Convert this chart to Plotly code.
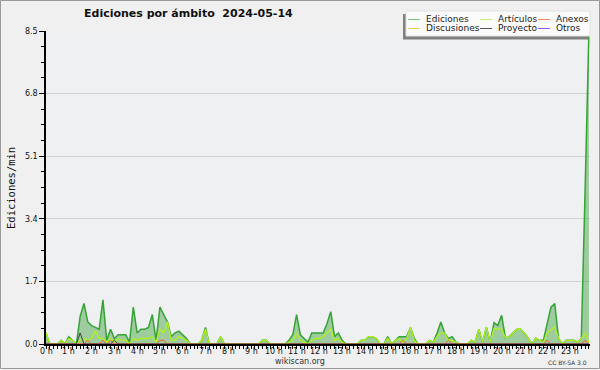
import plotly.graph_objects as go

# ---- data: edits per minute, 10-minute bins (00:00 .. 23:50) ----
ediciones = [
    0.3, 0, 0, 0, 0.1, 0,            # 0 h
    0.2, 0.1, 0, 0.75, 1.1, 0.6,     # 1 h
    0.5, 0.45, 0.4, 1.2, 0.1, 0.4,   # 2 h
    0.15, 0.25, 0.25, 0.25, 0.05, 1.0,  # 3 h
    0.3, 0.4, 0.4, 0.45, 0.8, 0.1,   # 4 h
    1.0, 0.8, 0.6, 0.2, 0.3, 0.35,   # 5 h
    0.25, 0.15, 0, 0, 0, 0.1,        # 6 h
    0.45, 0, 0, 0, 0.2, 0,           # 7 h
    0, 0, 0, 0, 0, 0,                # 8 h
    0, 0, 0, 0.1, 0.1, 0,            # 9 h
    0, 0, 0, 0, 0.1, 0.25,           # 10 h
    0.8, 0.25, 0.15, 0.05, 0.3, 0.3, # 11 h
    0.3, 0.3, 0.55, 0.88, 0.2, 0.3,  # 12 h
    0.1, 0, 0, 0, 0, 0.1,            # 13 h
    0.1, 0.2, 0.2, 0.15, 0, 0,       # 14 h
    0.2, 0, 0.1, 0.2, 0.2, 0.2,      # 15 h
    0.45, 0.15, 0, 0, 0, 0.1,        # 16 h
    0.05, 0.3, 0.6, 0.3, 0.15, 0.2,  # 17 h
    0.05, 0, 0, 0, 0.1, 0.05,        # 18 h
    0.4, 0.05, 0.46, 0.05, 0.58, 0.5,  # 19 h
    0.78, 0.17, 0.2, 0.3, 0.4, 0.4,  # 20 h
    0.3, 0.16, 0, 0.16, 0.1, 0.1,    # 21 h
    0.6, 1.0, 1.1, 0.15, 0, 0.1,     # 22 h
    0.1, 0.1, 0.05, 0.15, 4.2, 8.5,  # 23 h
]
articulos = [
    0.3, 0, 0, 0, 0.1, 0,
    0.15, 0.1, 0, 0.1, 0.15, 0.1,
    0.15, 0.35, 0.15, 0.15, 0.05, 0.15,
    0.05, 0.15, 0.1, 0.1, 0, 0.15,
    0.1, 0.15, 0.15, 0.15, 0.2, 0.05,
    0.4, 0.3, 0.6, 0.1, 0.1, 0.2,
    0.15, 0.1, 0, 0, 0, 0.1,
    0.4, 0, 0, 0, 0.2, 0,
    0, 0, 0, 0, 0, 0,
    0, 0, 0, 0.1, 0.1, 0,
    0, 0, 0, 0, 0.05, 0.1,
    0.3, 0.1, 0.05, 0, 0.1, 0.15,
    0.15, 0.2, 0.3, 0.4, 0.1, 0.15,
    0.05, 0, 0, 0, 0, 0.1,
    0.1, 0.2, 0.2, 0.15, 0, 0,
    0.15, 0, 0.1, 0.15, 0.05, 0.15,
    0.45, 0.1, 0, 0, 0, 0.1,
    0.05, 0.2, 0.3, 0.3, 0.1, 0.1,
    0.05, 0, 0, 0, 0.1, 0.05,
    0.4, 0.05, 0.46, 0.05, 0.42, 0.4,
    0.4, 0.17, 0.2, 0.3, 0.4, 0.4,
    0.3, 0.16, 0, 0.16, 0.1, 0.05,
    0.3, 0.37, 0.46, 0.15, 0, 0.1,
    0.1, 0.1, 0.05, 0.15, 0.3, 0.05,
]
# sparse series: (bin index, value)
anexos_bins = [11, 15, 17, 30, 31, 94, 106, 132, 142]
anexos_vals = [0.1, 0.1, 0.1, 0.1, 0.1, 0.1, 0.1, 0.1, 0.1]
proyecto_bins = [9, 18]
proyecto_vals = [0.3, 0.1]
discusiones_bins = []
discusiones_vals = []
otros_bins = []
otros_vals = []

hour_labels = [f"{h} h" for h in range(24)]
y_ticks = [0, 1.7, 3.4, 5.1, 6.8, 8.5]
y_labels = ["0.0", "1.7", "3.4", "5.1", "6.8", "8.5"]

N = len(ediciones)
x = [i / 6 for i in range(N)]


def dense(bins, vals):
    out = [0.0] * N
    for b, v in zip(bins, vals):
        out[b] = v
    return out


anexos = dense(anexos_bins, anexos_vals)
proyecto = dense(proyecto_bins, proyecto_vals)
discusiones = dense(discusiones_bins, discusiones_vals)
otros = dense(otros_bins, otros_vals)

W, H = 600, 370
ML, MR, MT, MB = 46, 10, 31, 26
PW, PH = W - ML - MR, H - MT - MB
PX_PER_HOUR = 22.78


def px(v):
    return (v - ML) / PW


def py(v):
    return (H - MB - v) / PH


FONT = "DejaVu Sans"

fig = go.Figure()
fig.add_trace(go.Scatter(x=x, y=ediciones, mode="lines", fill="tozeroy",
                         line=dict(color="#36a336", width=1.5),
                         fillcolor="rgba(60,160,60,0.45)", name="Ediciones"))
fig.add_trace(go.Scatter(x=x, y=discusiones, mode="lines",
                         line=dict(color="#f0c030", width=1), name="Discusiones"))
fig.add_trace(go.Scatter(x=x, y=otros, mode="lines",
                         line=dict(color="#9040e0", width=1), name="Otros"))
fig.add_trace(go.Scatter(x=x, y=articulos, mode="lines",
                         line=dict(color="#b0f01e", width=1.3), name="Artículos"))
fig.add_trace(go.Scatter(x=x, y=anexos, mode="lines",
                         line=dict(color="#ff5a1e", width=1), name="Anexos"))
fig.add_trace(go.Scatter(x=x, y=proyecto, mode="lines",
                         line=dict(color="#404040", width=1), name="Proyecto"))

shapes = []
annotations = []

# outer frame
shapes.append(dict(type="rect", xref="paper", yref="paper",
                   x0=px(0.5), x1=px(599.5), y0=py(368.5), y1=py(0.5),
                   line=dict(color="#9a9a9a", width=1), layer="above"))

# legend box with shadow
shapes.append(dict(type="rect", xref="paper", yref="paper",
                   x0=px(403), x1=px(588), y0=py(39.5), y1=py(14),
                   fillcolor="#808080", line=dict(width=0), layer="above"))
shapes.append(dict(type="rect", xref="paper", yref="paper",
                   x0=px(406), x1=px(590), y0=py(36), y1=py(11),
                   fillcolor="#fbfbfb", line=dict(color="#e2e2e2", width=1), layer="above"))

legend_items = [
    ("Ediciones", "#77c877", 408, 19.5),
    ("Artículos", "#cdee77", 480, 19.5),
    ("Anexos", "#f08a5a", 538, 19.5),
    ("Discusiones", "#f0cc55", 408, 28.5),
    ("Proyecto", "#555555", 480, 28.5),
    ("Otros", "#9955ee", 538, 28.5),
]
for name, col, lx, ly in legend_items:
    shapes.append(dict(type="line", xref="paper", yref="paper",
                       x0=px(lx), x1=px(lx + 12), y0=py(ly), y1=py(ly),
                       line=dict(color=col, width=1), layer="above"))
    annotations.append(dict(text=name, xref="paper", yref="paper",
                            x=px(lx + 16), y=py(ly), xanchor="left", yanchor="middle",
                            showarrow=False, font=dict(family=FONT, size=9, color="#222")))

# x tick labels (placed tight under the ticks, as in the reference)
for h, lab in enumerate(hour_labels):
    annotations.append(dict(text=lab, xref="x", yref="paper", x=h, y=py(352),
                            xanchor="center", yanchor="middle", showarrow=False,
                            font=dict(family=FONT, size=8, color="#111")))

# title
annotations.append(dict(text="Ediciones por ámbito\u00a0\u00a02024-05-14",
                        xref="paper", yref="paper", x=px(188.5), y=py(13.5),
                        xanchor="center", yanchor="middle", showarrow=False,
                        font=dict(family=FONT, size=11, color="#111", weight="bold")))
# y-axis title
annotations.append(dict(text="Ediciones/min", xref="paper", yref="paper",
                        x=px(11), y=py(188), xanchor="center", yanchor="middle",
                        textangle=-90, showarrow=False,
                        font=dict(family="DejaVu Sans Mono", size=10.5, color="#111")))
# footer texts
annotations.append(dict(text="wikiscan.org", xref="paper", yref="paper",
                        x=px(300), y=py(361.5), xanchor="center", yanchor="middle",
                        showarrow=False, font=dict(family=FONT, size=8, color="#333")))
annotations.append(dict(text="CC BY-SA 3.0", xref="paper", yref="paper",
                        x=px(589), y=py(362), xanchor="right", yanchor="middle",
                        showarrow=False, font=dict(family=FONT, size=6, color="#333")))

fig.update_layout(
    width=W, height=H,
    margin=dict(l=ML, r=MR, t=MT, b=MB),
    paper_bgcolor="#f0f0f0", plot_bgcolor="#eef0f1",
    showlegend=False,
    shapes=shapes, annotations=annotations,
    xaxis=dict(range=[0, PW / PX_PER_HOUR], tickmode="array", tickvals=list(range(24)),
               ticks="outside", ticklen=3, tickwidth=1, showticklabels=False,
               tickcolor="black", showline=True, linecolor="black", linewidth=2,
               showgrid=False, zeroline=False,
               minor=dict(tickmode="linear", tick0=0, dtick=1 / 6, ticks="outside",
                          ticklen=3, tickwidth=1, tickcolor="black", showgrid=False)),
    yaxis=dict(range=[0, 8.5], tickmode="array", tickvals=y_ticks, ticktext=y_labels,
               ticks="outside", ticklen=5, tickwidth=1, tickcolor="black",
               showline=True, linecolor="black", linewidth=1.5,
               showgrid=True, gridcolor="#d2d2d2", gridwidth=1, zeroline=False,
               tickfont=dict(family=FONT, size=8, color="#111"),
               minor=dict(tickmode="linear", tick0=0, dtick=0.425, ticks="outside",
                          ticklen=3, tickwidth=1, tickcolor="black", showgrid=False)),
)

fig.write_html("out.html")
